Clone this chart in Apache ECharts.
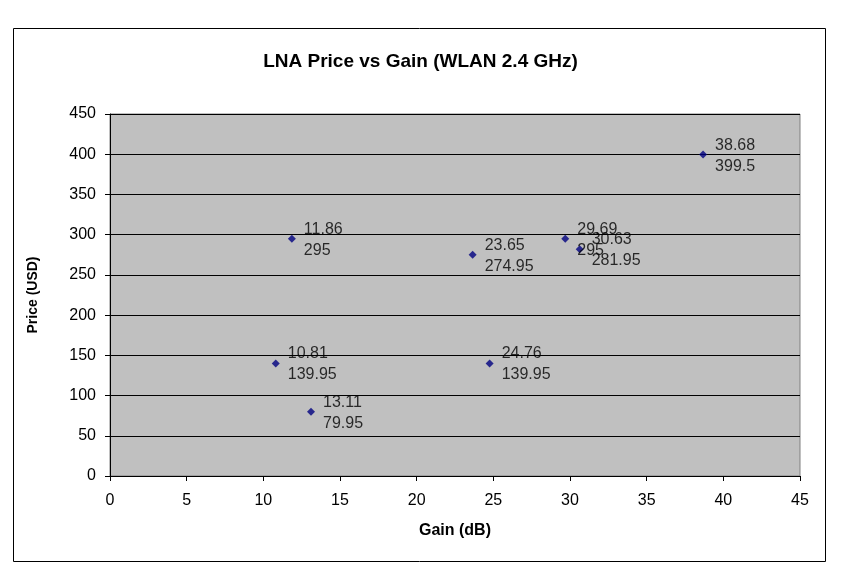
<!DOCTYPE html>
<html>
<head>
<meta charset="utf-8">
<script src="https://cdn.jsdelivr.net/npm/echarts@6/dist/echarts.min.js"></script>
<style>
  html, body { margin: 0; padding: 0; background: #fff; }
  #chart { width: 841px; height: 588px; }
</style>
</head>
<body>
<div id="chart"></div>
<script>
// gain (dB) and price (USD) for each LNA
var gain = [10.81, 11.86, 13.11, 23.65, 24.76, 29.69, 30.63, 38.68];
var price = [139.95, 295, 79.95, 274.95, 139.95, 295, 281.95, 399.5];

var points = gain.map(function (g, i) {
    return [g, price[i]];
});

var font = 'Liberation Sans, Arial, sans-serif';

var myChart = echarts.init(document.getElementById('chart'));

var option = {
    backgroundColor: '#fff',
    animation: false,
    title: {
        text: 'LNA Price vs Gain (WLAN 2.4 GHz)',
        left: 'center',
        top: 47,
        textStyle: {
            fontFamily: font,
            fontSize: 19,
            fontWeight: 'bold',
            color: '#000'
        }
    },
    graphic: [{
        type: 'rect',
        shape: { x: 13.5, y: 28.5, width: 812, height: 533 },
        style: { fill: 'none', stroke: '#000', lineWidth: 1 },
        silent: true
    }],
    grid: {
        left: 110,
        right: 41,
        top: 114,
        bottom: 112,
        show: true,
        backgroundColor: '#C0C0C0',
        borderColor: '#808080',
        borderWidth: 1
    },
    xAxis: {
        type: 'value',
        min: 0,
        max: 45,
        interval: 5,
        name: 'Gain (dB)',
        nameLocation: 'middle',
        nameGap: 47,
        nameTextStyle: { fontFamily: font, fontSize: 16, fontWeight: 'bold', color: '#000' },
        axisLine: { show: true, lineStyle: { color: '#000', width: 1 } },
        axisTick: { show: true, length: 5, lineStyle: { color: '#000' } },
        axisLabel: { fontFamily: font, fontSize: 16, color: '#000', margin: 17 },
        splitLine: { show: false }
    },
    yAxis: {
        type: 'value',
        min: 0,
        max: 450,
        interval: 50,
        name: 'Price (USD)',
        nameLocation: 'middle',
        nameGap: 70,
        nameRotate: 90,
        nameTextStyle: { fontFamily: font, fontSize: 14, fontWeight: 'bold', color: '#000' },
        axisLine: { show: true, lineStyle: { color: '#000', width: 1 } },
        axisTick: { show: true, length: 5, lineStyle: { color: '#000' } },
        axisLabel: { fontFamily: font, fontSize: 16, color: '#000', margin: 14 },
        splitLine: { show: true, lineStyle: { color: '#000', width: 1 } }
    },
    series: [{
        type: 'scatter',
        symbol: 'diamond',
        symbolSize: 8,
        itemStyle: { color: '#000080' },
        data: points,
        label: {
            show: true,
            position: 'right',
            distance: 8,
            offset: [0, 1],
            fontFamily: font,
            fontSize: 16,
            lineHeight: 21,
            color: '#000',
            formatter: function (p) {
                return p.value[0] + '\n' + p.value[1];
            }
        }
    }]
};

myChart.setOption(option);
</script>
</body>
</html>
